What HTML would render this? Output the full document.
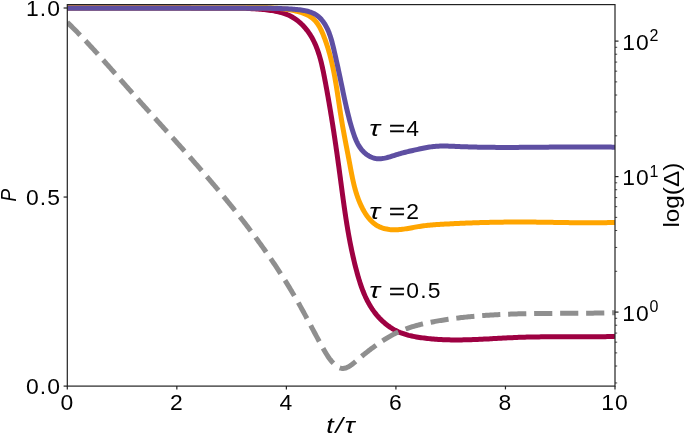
<!DOCTYPE html>
<html><head><meta charset="utf-8"><title>chart</title>
<style>html,body{margin:0;padding:0;background:#fff;}svg{display:block;}</style>
</head><body>
<svg width="685" height="436" viewBox="0 0 685 436">
<defs><clipPath id="c"><rect x="67.3" y="4.6" width="547.7" height="381.5"/></clipPath></defs>
<rect width="685" height="436" fill="#fff"/>
<g clip-path="url(#c)" fill="none" stroke-linejoin="round">
<path d="M67.00,8.00 L68.58,8.01 L70.16,8.01 L71.74,8.02 L73.32,8.02 L74.90,8.02 L76.48,8.03 L78.05,8.03 L79.63,8.03 L81.21,8.03 L82.79,8.04 L84.37,8.04 L85.95,8.04 L87.53,8.04 L89.11,8.04 L90.69,8.04 L92.26,8.04 L93.84,8.04 L95.42,8.04 L97.00,8.03 L98.58,8.03 L100.16,8.03 L101.74,8.03 L103.31,8.03 L104.89,8.02 L106.47,8.02 L108.05,8.02 L109.63,8.02 L111.21,8.01 L112.79,8.01 L114.36,8.01 L115.94,8.01 L117.52,8.00 L119.10,8.00 L120.68,8.00 L122.26,7.99 L123.83,7.99 L125.41,7.99 L126.99,7.99 L128.57,7.98 L130.15,7.98 L131.73,7.98 L133.30,7.98 L134.88,7.98 L136.46,7.97 L138.04,7.97 L139.62,7.97 L141.20,7.97 L142.77,7.97 L144.35,7.97 L145.93,7.97 L147.51,7.97 L149.09,7.97 L150.67,7.97 L152.25,7.97 L153.82,7.97 L155.40,7.98 L156.98,7.98 L158.56,7.98 L160.14,7.99 L161.72,7.99 L163.30,7.99 L164.87,8.00 L166.45,8.00 L168.03,8.01 L169.61,8.02 L171.19,8.02 L172.77,8.03 L174.35,8.04 L175.93,8.05 L177.51,8.05 L179.08,8.06 L180.66,8.07 L182.24,8.08 L183.82,8.09 L185.40,8.10 L186.98,8.10 L188.56,8.11 L190.14,8.12 L191.71,8.13 L193.29,8.14 L194.87,8.14 L196.45,8.15 L198.03,8.16 L199.61,8.16 L201.18,8.17 L202.76,8.17 L204.34,8.17 L205.92,8.18 L207.49,8.18 L209.07,8.18 L210.65,8.18 L212.22,8.18 L213.80,8.18 L215.38,8.18 L216.95,8.17 L218.53,8.17 L220.10,8.16 L221.68,8.16 L223.26,8.15 L224.83,8.15 L226.41,8.14 L227.98,8.14 L229.56,8.14 L231.13,8.14 L232.71,8.15 L234.28,8.16 L235.86,8.17 L237.44,8.19 L239.01,8.21 L240.59,8.24 L242.17,8.28 L243.74,8.32 L245.32,8.36 L246.90,8.42 L248.48,8.48 L250.06,8.55 L251.64,8.63 L253.22,8.71 L254.80,8.81 L256.38,8.92 L257.96,9.03 L259.55,9.16 L261.13,9.30 L262.72,9.45 L264.30,9.61 L265.89,9.79 L267.48,9.98 L269.06,10.18 L270.65,10.40 L272.23,10.64 L273.81,10.90 L275.37,11.19 L276.93,11.51 L278.48,11.85 L280.02,12.23 L281.54,12.64 L283.05,13.09 L284.54,13.58 L286.01,14.12 L287.46,14.70 L288.88,15.32 L290.29,16.00 L291.66,16.73 L293.01,17.51 L294.33,18.33 L295.62,19.21 L296.89,20.13 L298.12,21.09 L299.33,22.10 L300.50,23.14 L301.64,24.22 L302.76,25.33 L303.84,26.47 L304.88,27.64 L305.90,28.84 L306.88,30.07 L307.82,31.32 L308.73,32.59 L309.61,33.88 L310.45,35.19 L311.26,36.52 L312.03,37.86 L312.78,39.22 L313.49,40.60 L314.18,41.99 L314.83,43.39 L315.46,44.81 L316.07,46.25 L316.65,47.70 L317.20,49.15 L317.73,50.63 L318.24,52.11 L318.73,53.60 L319.20,55.10 L319.66,56.61 L320.09,58.13 L320.51,59.66 L320.91,61.19 L321.30,62.73 L321.67,64.28 L322.04,65.83 L322.39,67.38 L322.73,68.94 L323.06,70.51 L323.39,72.07 L323.70,73.64 L324.01,75.21 L324.32,76.78 L324.62,78.35 L324.92,79.92 L325.22,81.49 L325.52,83.06 L325.81,84.63 L326.10,86.20 L326.39,87.76 L326.68,89.33 L326.96,90.89 L327.24,92.46 L327.52,94.02 L327.80,95.58 L328.08,97.15 L328.35,98.71 L328.62,100.27 L328.90,101.83 L329.16,103.39 L329.43,104.95 L329.70,106.51 L329.96,108.07 L330.22,109.63 L330.48,111.19 L330.74,112.75 L330.99,114.30 L331.25,115.86 L331.50,117.42 L331.75,118.98 L332.00,120.53 L332.25,122.09 L332.50,123.64 L332.74,125.20 L332.99,126.76 L333.23,128.31 L333.47,129.87 L333.71,131.42 L333.94,132.98 L334.18,134.53 L334.42,136.09 L334.65,137.64 L334.88,139.20 L335.11,140.76 L335.34,142.31 L335.57,143.87 L335.80,145.42 L336.02,146.98 L336.25,148.53 L336.47,150.09 L336.70,151.64 L336.92,153.20 L337.14,154.76 L337.36,156.31 L337.58,157.87 L337.79,159.43 L338.01,160.99 L338.22,162.54 L338.44,164.10 L338.65,165.66 L338.87,167.22 L339.08,168.78 L339.29,170.34 L339.50,171.90 L339.71,173.46 L339.92,175.02 L340.13,176.58 L340.34,178.14 L340.54,179.71 L340.75,181.27 L340.96,182.83 L341.17,184.40 L341.38,185.96 L341.58,187.52 L341.79,189.09 L342.00,190.65 L342.21,192.22 L342.42,193.78 L342.63,195.34 L342.85,196.91 L343.06,198.47 L343.27,200.04 L343.49,201.60 L343.71,203.17 L343.93,204.73 L344.15,206.29 L344.37,207.86 L344.60,209.42 L344.83,210.99 L345.06,212.55 L345.29,214.11 L345.53,215.68 L345.76,217.24 L346.00,218.80 L346.25,220.36 L346.49,221.92 L346.74,223.48 L347.00,225.04 L347.25,226.60 L347.51,228.16 L347.77,229.72 L348.04,231.28 L348.31,232.84 L348.59,234.39 L348.87,235.95 L349.15,237.50 L349.44,239.06 L349.73,240.61 L350.03,242.17 L350.33,243.72 L350.64,245.27 L350.95,246.82 L351.27,248.37 L351.59,249.92 L351.92,251.46 L352.25,253.01 L352.59,254.56 L352.93,256.10 L353.28,257.64 L353.64,259.19 L354.00,260.73 L354.37,262.27 L354.74,263.80 L355.13,265.34 L355.51,266.88 L355.91,268.41 L356.31,269.94 L356.72,271.48 L357.14,273.01 L357.56,274.53 L357.99,276.06 L358.44,277.58 L358.89,279.10 L359.36,280.61 L359.83,282.12 L360.32,283.62 L360.83,285.12 L361.34,286.61 L361.88,288.09 L362.43,289.57 L362.99,291.04 L363.58,292.49 L364.18,293.94 L364.80,295.38 L365.44,296.81 L366.11,298.22 L366.79,299.62 L367.50,301.02 L368.23,302.39 L368.98,303.76 L369.76,305.11 L370.57,306.44 L371.40,307.77 L372.25,309.07 L373.14,310.36 L374.06,311.63 L375.00,312.88 L375.98,314.12 L376.98,315.33 L378.02,316.53 L379.09,317.71 L380.19,318.86 L381.32,319.99 L382.48,321.10 L383.66,322.17 L384.87,323.22 L386.11,324.24 L387.38,325.22 L388.66,326.17 L389.97,327.09 L391.31,327.97 L392.66,328.81 L394.03,329.61 L395.42,330.36 L396.84,331.07 L398.26,331.74 L399.71,332.37 L401.17,332.95 L402.64,333.49 L404.13,333.99 L405.63,334.46 L407.14,334.90 L408.66,335.31 L410.19,335.68 L411.72,336.03 L413.27,336.35 L414.82,336.65 L416.37,336.93 L417.93,337.20 L419.49,337.44 L421.05,337.67 L422.61,337.89 L424.18,338.09 L425.74,338.28 L427.31,338.46 L428.87,338.63 L430.44,338.78 L432.01,338.93 L433.58,339.06 L435.14,339.18 L436.71,339.30 L438.28,339.40 L439.85,339.49 L441.42,339.57 L442.99,339.65 L444.57,339.71 L446.14,339.77 L447.71,339.81 L449.28,339.85 L450.86,339.88 L452.43,339.90 L454.01,339.92 L455.58,339.92 L457.16,339.92 L458.73,339.92 L460.31,339.91 L461.89,339.89 L463.46,339.86 L465.04,339.83 L466.62,339.80 L468.20,339.75 L469.77,339.71 L471.35,339.66 L472.93,339.60 L474.51,339.54 L476.09,339.48 L477.67,339.42 L479.25,339.35 L480.83,339.27 L482.41,339.20 L483.99,339.12 L485.57,339.04 L487.15,338.96 L488.73,338.88 L490.31,338.80 L491.89,338.71 L493.47,338.62 L495.05,338.54 L496.63,338.45 L498.21,338.37 L499.79,338.28 L501.37,338.19 L502.95,338.11 L504.53,338.02 L506.11,337.94 L507.69,337.86 L509.27,337.78 L510.85,337.71 L512.43,337.63 L514.01,337.56 L515.59,337.49 L517.17,337.43 L518.75,337.36 L520.33,337.31 L521.91,337.25 L523.49,337.20 L525.07,337.16 L526.64,337.11 L528.22,337.07 L529.80,337.04 L531.38,337.01 L532.96,336.98 L534.53,336.95 L536.11,336.93 L537.69,336.91 L539.26,336.89 L540.84,336.87 L542.42,336.86 L544.00,336.85 L545.57,336.84 L547.15,336.83 L548.73,336.83 L550.30,336.82 L551.88,336.82 L553.45,336.82 L555.03,336.82 L556.61,336.82 L558.18,336.82 L559.76,336.82 L561.34,336.83 L562.91,336.83 L564.49,336.84 L566.07,336.84 L567.64,336.84 L569.22,336.85 L570.80,336.85 L572.37,336.86 L573.95,336.86 L575.53,336.86 L577.10,336.87 L578.68,336.87 L580.26,336.87 L581.83,336.87 L583.41,336.87 L584.99,336.86 L586.57,336.86 L588.14,336.85 L589.72,336.84 L591.30,336.83 L592.88,336.82 L594.46,336.81 L596.04,336.79 L597.61,336.77 L599.19,336.75 L600.77,336.72 L602.35,336.69 L603.93,336.66 L605.51,336.63 L607.09,336.59 L608.67,336.55 L610.26,336.51 L611.84,336.46 L613.42,336.41 L615.00,336.35" stroke="#9e0142" stroke-width="5"/>
<path d="M67.00,8.00 L68.42,7.99 L69.84,7.98 L71.26,7.98 L72.68,7.97 L74.10,7.96 L75.52,7.95 L76.94,7.95 L78.36,7.94 L79.78,7.94 L81.20,7.93 L82.62,7.93 L84.04,7.92 L85.46,7.92 L86.88,7.92 L88.30,7.91 L89.72,7.91 L91.14,7.91 L92.56,7.91 L93.98,7.91 L95.40,7.90 L96.82,7.90 L98.24,7.90 L99.66,7.90 L101.08,7.90 L102.49,7.90 L103.91,7.90 L105.33,7.90 L106.75,7.91 L108.17,7.91 L109.59,7.91 L111.01,7.91 L112.43,7.91 L113.84,7.91 L115.26,7.92 L116.68,7.92 L118.10,7.92 L119.52,7.93 L120.94,7.93 L122.35,7.93 L123.77,7.94 L125.19,7.94 L126.61,7.94 L128.03,7.95 L129.44,7.95 L130.86,7.96 L132.28,7.96 L133.70,7.96 L135.12,7.97 L136.53,7.97 L137.95,7.98 L139.37,7.98 L140.79,7.99 L142.21,7.99 L143.62,8.00 L145.04,8.00 L146.46,8.01 L147.88,8.01 L149.30,8.02 L150.71,8.02 L152.13,8.03 L153.55,8.03 L154.97,8.03 L156.38,8.04 L157.80,8.04 L159.22,8.05 L160.64,8.05 L162.06,8.06 L163.47,8.06 L164.89,8.07 L166.31,8.07 L167.73,8.07 L169.15,8.08 L170.56,8.08 L171.98,8.09 L173.40,8.09 L174.82,8.09 L176.23,8.10 L177.65,8.10 L179.07,8.10 L180.49,8.10 L181.91,8.11 L183.33,8.11 L184.74,8.11 L186.16,8.11 L187.58,8.12 L189.00,8.12 L190.42,8.12 L191.83,8.12 L193.25,8.12 L194.67,8.12 L196.09,8.12 L197.51,8.12 L198.93,8.12 L200.35,8.12 L201.76,8.12 L203.18,8.12 L204.60,8.11 L206.02,8.11 L207.44,8.11 L208.86,8.11 L210.28,8.10 L211.70,8.10 L213.12,8.10 L214.53,8.09 L215.95,8.09 L217.37,8.08 L218.79,8.08 L220.21,8.07 L221.63,8.06 L223.05,8.06 L224.47,8.05 L225.89,8.04 L227.31,8.03 L228.73,8.02 L230.15,8.02 L231.57,8.01 L232.99,8.00 L234.41,7.98 L235.83,7.97 L237.25,7.96 L238.67,7.95 L240.09,7.94 L241.51,7.92 L242.93,7.91 L244.35,7.89 L245.77,7.88 L247.20,7.86 L248.62,7.85 L250.04,7.83 L251.46,7.82 L252.88,7.80 L254.30,7.79 L255.72,7.78 L257.15,7.78 L258.57,7.78 L259.99,7.78 L261.41,7.78 L262.83,7.80 L264.25,7.82 L265.68,7.84 L267.10,7.87 L268.52,7.91 L269.94,7.96 L271.36,8.02 L272.78,8.09 L274.21,8.16 L275.63,8.25 L277.05,8.35 L278.47,8.46 L279.89,8.58 L281.31,8.72 L282.73,8.87 L284.15,9.03 L285.58,9.21 L287.00,9.41 L288.42,9.62 L289.84,9.84 L291.26,10.08 L292.68,10.35 L294.10,10.63 L295.51,10.93 L296.91,11.25 L298.30,11.61 L299.68,11.99 L301.04,12.40 L302.38,12.85 L303.70,13.33 L305.00,13.85 L306.26,14.41 L307.50,15.01 L308.70,15.66 L309.86,16.35 L310.98,17.10 L312.06,17.89 L313.10,18.74 L314.08,19.65 L315.02,20.61 L315.91,21.62 L316.76,22.68 L317.56,23.79 L318.32,24.94 L319.05,26.13 L319.75,27.35 L320.41,28.60 L321.05,29.87 L321.65,31.17 L322.24,32.48 L322.80,33.80 L323.35,35.14 L323.88,36.48 L324.40,37.83 L324.91,39.18 L325.40,40.53 L325.88,41.88 L326.35,43.24 L326.80,44.60 L327.25,45.96 L327.68,47.32 L328.10,48.69 L328.51,50.06 L328.91,51.43 L329.30,52.80 L329.68,54.17 L330.06,55.55 L330.42,56.93 L330.77,58.31 L331.11,59.69 L331.45,61.08 L331.77,62.46 L332.09,63.85 L332.40,65.24 L332.71,66.63 L333.01,68.02 L333.30,69.41 L333.58,70.81 L333.86,72.20 L334.13,73.60 L334.39,75.00 L334.65,76.39 L334.91,77.79 L335.16,79.19 L335.40,80.59 L335.64,82.00 L335.88,83.40 L336.11,84.80 L336.34,86.21 L336.57,87.61 L336.79,89.01 L337.01,90.42 L337.23,91.83 L337.45,93.23 L337.66,94.64 L337.87,96.04 L338.09,97.45 L338.30,98.85 L338.51,100.26 L338.72,101.66 L338.93,103.07 L339.14,104.47 L339.35,105.88 L339.56,107.28 L339.77,108.68 L339.98,110.09 L340.20,111.49 L340.42,112.89 L340.63,114.29 L340.86,115.69 L341.08,117.09 L341.31,118.49 L341.54,119.88 L341.77,121.28 L342.01,122.67 L342.25,124.07 L342.49,125.46 L342.73,126.85 L342.98,128.24 L343.23,129.64 L343.49,131.03 L343.74,132.42 L344.00,133.81 L344.25,135.19 L344.51,136.58 L344.78,137.97 L345.04,139.36 L345.30,140.75 L345.57,142.14 L345.83,143.53 L346.10,144.91 L346.37,146.30 L346.64,147.69 L346.90,149.08 L347.17,150.47 L347.44,151.86 L347.71,153.25 L347.98,154.65 L348.24,156.04 L348.51,157.43 L348.78,158.83 L349.04,160.22 L349.30,161.62 L349.57,163.02 L349.83,164.41 L350.09,165.81 L350.35,167.21 L350.61,168.61 L350.87,170.02 L351.14,171.42 L351.41,172.82 L351.68,174.22 L351.96,175.61 L352.25,177.01 L352.54,178.41 L352.84,179.80 L353.15,181.19 L353.46,182.58 L353.79,183.97 L354.13,185.36 L354.48,186.74 L354.84,188.12 L355.22,189.49 L355.61,190.86 L356.01,192.23 L356.43,193.59 L356.87,194.95 L357.33,196.31 L357.80,197.65 L358.30,199.00 L358.81,200.34 L359.35,201.67 L359.90,202.99 L360.48,204.31 L361.08,205.62 L361.71,206.93 L362.36,208.23 L363.04,209.51 L363.74,210.78 L364.47,212.04 L365.23,213.27 L366.02,214.48 L366.83,215.66 L367.68,216.82 L368.55,217.94 L369.45,219.02 L370.39,220.06 L371.35,221.06 L372.35,222.02 L373.38,222.92 L374.44,223.77 L375.54,224.57 L376.67,225.31 L377.84,225.99 L379.04,226.60 L380.27,227.16 L381.53,227.65 L382.81,228.09 L384.12,228.48 L385.45,228.81 L386.80,229.09 L388.17,229.32 L389.56,229.50 L390.95,229.64 L392.36,229.73 L393.77,229.78 L395.19,229.79 L396.61,229.75 L398.04,229.69 L399.46,229.58 L400.89,229.45 L402.32,229.29 L403.75,229.11 L405.18,228.90 L406.61,228.68 L408.04,228.44 L409.47,228.19 L410.90,227.94 L412.33,227.68 L413.76,227.41 L415.19,227.15 L416.62,226.89 L418.04,226.65 L419.47,226.41 L420.89,226.18 L422.31,225.98 L423.72,225.79 L425.14,225.61 L426.55,225.45 L427.96,225.30 L429.37,225.16 L430.78,225.04 L432.18,224.92 L433.59,224.81 L435.00,224.71 L436.40,224.61 L437.81,224.52 L439.21,224.44 L440.62,224.35 L442.03,224.27 L443.43,224.19 L444.84,224.11 L446.25,224.03 L447.66,223.95 L449.07,223.88 L450.48,223.80 L451.89,223.73 L453.30,223.66 L454.71,223.59 L456.12,223.52 L457.54,223.46 L458.95,223.39 L460.36,223.33 L461.78,223.27 L463.19,223.21 L464.61,223.15 L466.02,223.09 L467.44,223.04 L468.85,222.98 L470.27,222.93 L471.69,222.88 L473.10,222.83 L474.52,222.78 L475.94,222.74 L477.35,222.69 L478.77,222.65 L480.19,222.61 L481.61,222.56 L483.03,222.53 L484.45,222.49 L485.87,222.45 L487.29,222.42 L488.71,222.38 L490.13,222.35 L491.55,222.32 L492.97,222.29 L494.39,222.27 L495.81,222.24 L497.23,222.22 L498.65,222.19 L500.07,222.17 L501.49,222.15 L502.91,222.13 L504.33,222.12 L505.75,222.10 L507.17,222.09 L508.60,222.07 L510.02,222.06 L511.44,222.05 L512.86,222.05 L514.28,222.04 L515.70,222.03 L517.12,222.03 L518.54,222.03 L519.96,222.03 L521.38,222.03 L522.80,222.03 L524.22,222.03 L525.64,222.04 L527.06,222.04 L528.48,222.05 L529.90,222.06 L531.32,222.07 L532.74,222.09 L534.16,222.10 L535.58,222.11 L537.00,222.13 L538.42,222.15 L539.83,222.17 L541.25,222.18 L542.67,222.20 L544.09,222.22 L545.51,222.25 L546.92,222.27 L548.34,222.29 L549.76,222.31 L551.18,222.34 L552.59,222.36 L554.01,222.38 L555.43,222.41 L556.85,222.43 L558.26,222.45 L559.68,222.48 L561.10,222.50 L562.51,222.52 L563.93,222.55 L565.35,222.57 L566.76,222.59 L568.18,222.61 L569.60,222.63 L571.02,222.65 L572.43,222.67 L573.85,222.68 L575.27,222.70 L576.68,222.72 L578.10,222.73 L579.52,222.74 L580.94,222.75 L582.35,222.76 L583.77,222.77 L585.19,222.78 L586.61,222.78 L588.02,222.79 L589.44,222.79 L590.86,222.79 L592.28,222.78 L593.70,222.78 L595.12,222.77 L596.54,222.76 L597.95,222.75 L599.37,222.74 L600.79,222.72 L602.21,222.70 L603.63,222.68 L605.05,222.66 L606.47,222.63 L607.89,222.60 L609.31,222.56 L610.74,222.53 L612.16,222.49 L613.58,222.45 L615.00,222.40" stroke="#ffa500" stroke-width="5"/>
<path d="M67.00,8.30 L68.31,8.30 L69.62,8.30 L70.92,8.29 L72.23,8.29 L73.54,8.29 L74.85,8.29 L76.16,8.29 L77.46,8.29 L78.77,8.29 L80.08,8.28 L81.39,8.28 L82.70,8.28 L84.00,8.28 L85.31,8.28 L86.62,8.28 L87.93,8.28 L89.23,8.28 L90.54,8.28 L91.85,8.28 L93.15,8.28 L94.46,8.28 L95.77,8.28 L97.08,8.28 L98.38,8.28 L99.69,8.28 L101.00,8.28 L102.30,8.28 L103.61,8.28 L104.92,8.28 L106.23,8.28 L107.53,8.28 L108.84,8.28 L110.15,8.28 L111.45,8.28 L112.76,8.28 L114.07,8.28 L115.37,8.28 L116.68,8.28 L117.99,8.29 L119.29,8.29 L120.60,8.29 L121.91,8.29 L123.21,8.29 L124.52,8.29 L125.83,8.29 L127.13,8.29 L128.44,8.29 L129.75,8.29 L131.05,8.29 L132.36,8.30 L133.67,8.30 L134.97,8.30 L136.28,8.30 L137.59,8.30 L138.89,8.30 L140.20,8.30 L141.51,8.30 L142.81,8.30 L144.12,8.31 L145.42,8.31 L146.73,8.31 L148.04,8.31 L149.34,8.31 L150.65,8.31 L151.96,8.31 L153.26,8.31 L154.57,8.31 L155.88,8.32 L157.18,8.32 L158.49,8.32 L159.80,8.32 L161.10,8.32 L162.41,8.32 L163.72,8.32 L165.02,8.32 L166.33,8.32 L167.64,8.32 L168.94,8.32 L170.25,8.32 L171.56,8.32 L172.86,8.32 L174.17,8.33 L175.48,8.33 L176.79,8.33 L178.09,8.33 L179.40,8.33 L180.71,8.33 L182.01,8.33 L183.32,8.33 L184.63,8.33 L185.93,8.33 L187.24,8.33 L188.55,8.33 L189.86,8.33 L191.16,8.33 L192.47,8.32 L193.78,8.32 L195.09,8.32 L196.39,8.32 L197.70,8.32 L199.01,8.32 L200.32,8.32 L201.62,8.32 L202.93,8.32 L204.24,8.32 L205.55,8.32 L206.86,8.31 L208.16,8.31 L209.47,8.31 L210.78,8.31 L212.09,8.31 L213.40,8.30 L214.70,8.30 L216.01,8.30 L217.32,8.30 L218.63,8.30 L219.94,8.29 L221.25,8.29 L222.56,8.29 L223.86,8.28 L225.17,8.28 L226.48,8.28 L227.79,8.27 L229.10,8.27 L230.41,8.27 L231.72,8.26 L233.03,8.26 L234.34,8.26 L235.65,8.25 L236.96,8.25 L238.26,8.24 L239.57,8.24 L240.88,8.24 L242.19,8.23 L243.50,8.23 L244.81,8.23 L246.12,8.23 L247.43,8.23 L248.73,8.22 L250.04,8.22 L251.35,8.23 L252.66,8.23 L253.96,8.23 L255.27,8.23 L256.57,8.24 L257.88,8.24 L259.18,8.25 L260.49,8.26 L261.79,8.27 L263.09,8.28 L264.40,8.29 L265.70,8.30 L267.00,8.32 L268.30,8.33 L269.60,8.35 L270.90,8.37 L272.20,8.39 L273.49,8.41 L274.79,8.44 L276.09,8.46 L277.38,8.49 L278.67,8.52 L279.97,8.56 L281.26,8.59 L282.56,8.64 L283.86,8.68 L285.16,8.73 L286.46,8.79 L287.76,8.86 L289.07,8.93 L290.38,9.01 L291.70,9.09 L293.02,9.19 L294.35,9.29 L295.68,9.41 L297.02,9.53 L298.36,9.67 L299.71,9.82 L301.05,9.99 L302.38,10.19 L303.71,10.41 L305.03,10.66 L306.33,10.94 L307.62,11.25 L308.89,11.61 L310.13,12.01 L311.35,12.45 L312.54,12.94 L313.69,13.48 L314.81,14.07 L315.89,14.73 L316.94,15.44 L317.94,16.20 L318.91,17.02 L319.83,17.88 L320.73,18.79 L321.58,19.74 L322.40,20.73 L323.19,21.76 L323.94,22.82 L324.65,23.90 L325.34,25.02 L325.99,26.15 L326.61,27.31 L327.20,28.48 L327.75,29.67 L328.28,30.86 L328.78,32.07 L329.26,33.29 L329.71,34.52 L330.14,35.75 L330.54,36.99 L330.93,38.24 L331.31,39.50 L331.66,40.76 L332.01,42.02 L332.34,43.29 L332.66,44.57 L332.98,45.84 L333.29,47.12 L333.59,48.40 L333.90,49.68 L334.20,50.96 L334.50,52.24 L334.79,53.52 L335.09,54.80 L335.38,56.08 L335.67,57.36 L335.96,58.64 L336.25,59.93 L336.54,61.21 L336.82,62.49 L337.10,63.77 L337.38,65.05 L337.66,66.33 L337.94,67.62 L338.22,68.90 L338.49,70.18 L338.77,71.46 L339.04,72.74 L339.31,74.02 L339.58,75.30 L339.85,76.58 L340.12,77.86 L340.39,79.14 L340.66,80.42 L340.92,81.69 L341.19,82.97 L341.46,84.25 L341.72,85.52 L341.99,86.80 L342.25,88.07 L342.52,89.34 L342.78,90.61 L343.04,91.88 L343.31,93.15 L343.58,94.42 L343.84,95.69 L344.11,96.96 L344.38,98.23 L344.65,99.50 L344.93,100.76 L345.21,102.03 L345.48,103.30 L345.77,104.56 L346.05,105.83 L346.34,107.10 L346.63,108.36 L346.93,109.63 L347.23,110.90 L347.53,112.16 L347.84,113.43 L348.15,114.70 L348.47,115.97 L348.80,117.23 L349.13,118.50 L349.46,119.77 L349.80,121.04 L350.15,122.31 L350.51,123.58 L350.87,124.85 L351.24,126.13 L351.61,127.40 L352.00,128.68 L352.39,129.95 L352.79,131.23 L353.19,132.50 L353.61,133.78 L354.05,135.05 L354.50,136.31 L354.97,137.57 L355.45,138.81 L355.97,140.04 L356.50,141.25 L357.07,142.45 L357.66,143.62 L358.29,144.78 L358.95,145.90 L359.64,147.00 L360.38,148.07 L361.16,149.11 L361.98,150.11 L362.84,151.07 L363.74,152.00 L364.68,152.88 L365.66,153.71 L366.67,154.49 L367.71,155.21 L368.79,155.88 L369.89,156.48 L371.02,157.03 L372.17,157.50 L373.35,157.90 L374.55,158.23 L375.77,158.48 L377.01,158.66 L378.26,158.74 L379.53,158.75 L380.81,158.69 L382.10,158.56 L383.40,158.37 L384.70,158.13 L386.02,157.84 L387.33,157.52 L388.65,157.16 L389.97,156.78 L391.29,156.37 L392.61,155.96 L393.92,155.54 L395.23,155.12 L396.53,154.70 L397.82,154.31 L399.10,153.92 L400.38,153.56 L401.64,153.20 L402.90,152.86 L404.16,152.53 L405.41,152.21 L406.66,151.90 L407.90,151.60 L409.15,151.31 L410.39,151.02 L411.64,150.73 L412.89,150.45 L414.14,150.17 L415.39,149.89 L416.65,149.62 L417.92,149.34 L419.19,149.06 L420.46,148.78 L421.74,148.51 L423.03,148.25 L424.31,147.99 L425.61,147.75 L426.90,147.51 L428.20,147.29 L429.49,147.08 L430.79,146.88 L432.10,146.71 L433.40,146.55 L434.70,146.41 L436.01,146.30 L437.31,146.21 L438.62,146.13 L439.92,146.08 L441.22,146.05 L442.53,146.04 L443.83,146.04 L445.14,146.05 L446.44,146.07 L447.75,146.11 L449.05,146.15 L450.36,146.20 L451.66,146.25 L452.96,146.31 L454.27,146.37 L455.57,146.43 L456.88,146.48 L458.18,146.54 L459.49,146.59 L460.79,146.64 L462.10,146.69 L463.40,146.74 L464.71,146.78 L466.02,146.83 L467.32,146.87 L468.63,146.91 L469.93,146.94 L471.24,146.98 L472.54,147.02 L473.85,147.05 L475.15,147.08 L476.46,147.11 L477.77,147.14 L479.07,147.16 L480.38,147.19 L481.68,147.21 L482.99,147.23 L484.30,147.25 L485.60,147.27 L486.91,147.29 L488.21,147.31 L489.52,147.32 L490.83,147.34 L492.13,147.35 L493.44,147.36 L494.75,147.37 L496.05,147.38 L497.36,147.39 L498.67,147.39 L499.97,147.40 L501.28,147.40 L502.59,147.41 L503.89,147.41 L505.20,147.41 L506.51,147.41 L507.81,147.41 L509.12,147.41 L510.43,147.41 L511.73,147.41 L513.04,147.40 L514.35,147.40 L515.65,147.39 L516.96,147.39 L518.27,147.38 L519.58,147.37 L520.88,147.37 L522.19,147.36 L523.50,147.35 L524.80,147.34 L526.11,147.33 L527.42,147.32 L528.73,147.31 L530.03,147.30 L531.34,147.29 L532.65,147.28 L533.95,147.27 L535.26,147.26 L536.57,147.24 L537.88,147.23 L539.18,147.22 L540.49,147.21 L541.80,147.19 L543.11,147.18 L544.41,147.17 L545.72,147.15 L547.03,147.14 L548.34,147.13 L549.64,147.11 L550.95,147.10 L552.26,147.09 L553.57,147.08 L554.87,147.06 L556.18,147.05 L557.49,147.04 L558.79,147.03 L560.10,147.02 L561.41,147.01 L562.72,146.99 L564.02,146.98 L565.33,146.97 L566.64,146.97 L567.95,146.96 L569.25,146.95 L570.56,146.94 L571.87,146.93 L573.18,146.93 L574.48,146.92 L575.79,146.91 L577.10,146.91 L578.41,146.90 L579.71,146.90 L581.02,146.90 L582.33,146.90 L583.63,146.90 L584.94,146.90 L586.25,146.90 L587.56,146.90 L588.86,146.90 L590.17,146.91 L591.48,146.91 L592.78,146.92 L594.09,146.92 L595.40,146.93 L596.71,146.94 L598.01,146.95 L599.32,146.96 L600.63,146.97 L601.93,146.99 L603.24,147.00 L604.55,147.02 L605.85,147.04 L607.16,147.06 L608.47,147.08 L609.77,147.10 L611.08,147.12 L612.39,147.15 L613.69,147.17 L615.00,147.20" stroke="#5e4fa2" stroke-width="5"/>
<path d="M67.30,22.30 L68.35,23.32 L69.40,24.34 L70.44,25.37 L71.48,26.40 L72.52,27.43 L73.56,28.46 L74.59,29.50 L75.62,30.54 L76.65,31.58 L77.67,32.63 L78.69,33.68 L79.71,34.73 L80.73,35.78 L81.75,36.84 L82.76,37.89 L83.77,38.95 L84.78,40.01 L85.78,41.08 L86.79,42.14 L87.79,43.21 L88.79,44.28 L89.79,45.35 L90.79,46.43 L91.78,47.50 L92.77,48.58 L93.77,49.66 L94.76,50.74 L95.75,51.82 L96.73,52.91 L97.72,53.99 L98.70,55.08 L99.69,56.16 L100.67,57.25 L101.65,58.34 L102.63,59.43 L103.61,60.53 L104.58,61.62 L105.56,62.71 L106.53,63.81 L107.51,64.90 L108.48,66.00 L109.46,67.10 L110.43,68.19 L111.40,69.29 L112.37,70.39 L113.34,71.49 L114.31,72.59 L115.28,73.69 L116.25,74.79 L117.22,75.89 L118.19,76.99 L119.16,78.09 L120.13,79.19 L121.10,80.29 L122.07,81.39 L123.04,82.49 L124.01,83.59 L124.98,84.69 L125.95,85.79 L126.92,86.89 L127.89,87.99 L128.86,89.09 L129.83,90.19 L130.80,91.28 L131.77,92.38 L132.75,93.48 L133.72,94.57 L134.69,95.67 L135.67,96.76 L136.64,97.85 L137.62,98.95 L138.60,100.04 L139.57,101.13 L140.55,102.22 L141.53,103.31 L142.51,104.40 L143.49,105.49 L144.46,106.58 L145.44,107.67 L146.42,108.76 L147.40,109.85 L148.38,110.93 L149.36,112.02 L150.34,113.11 L151.32,114.20 L152.30,115.28 L153.29,116.37 L154.27,117.46 L155.25,118.54 L156.23,119.63 L157.21,120.71 L158.19,121.80 L159.17,122.89 L160.16,123.97 L161.14,125.06 L162.12,126.15 L163.10,127.23 L164.08,128.32 L165.06,129.40 L166.04,130.49 L167.02,131.58 L168.00,132.67 L168.98,133.75 L169.96,134.84 L170.94,135.93 L171.92,137.02 L172.90,138.10 L173.88,139.19 L174.86,140.28 L175.84,141.37 L176.82,142.46 L177.80,143.55 L178.77,144.64 L179.75,145.73 L180.73,146.82 L181.70,147.92 L182.68,149.01 L183.65,150.10 L184.63,151.20 L185.60,152.29 L186.57,153.39 L187.55,154.48 L188.52,155.58 L189.49,156.68 L190.46,157.77 L191.43,158.87 L192.40,159.97 L193.37,161.07 L194.33,162.18 L195.30,163.28 L196.27,164.38 L197.23,165.48 L198.19,166.59 L199.16,167.69 L200.12,168.80 L201.08,169.91 L202.04,171.02 L203.00,172.13 L203.96,173.24 L204.92,174.35 L205.87,175.46 L206.83,176.57 L207.78,177.69 L208.74,178.80 L209.69,179.92 L210.64,181.03 L211.59,182.15 L212.54,183.27 L213.49,184.39 L214.43,185.51 L215.38,186.63 L216.32,187.76 L217.27,188.88 L218.21,190.01 L219.15,191.13 L220.09,192.26 L221.02,193.39 L221.96,194.52 L222.89,195.65 L223.83,196.78 L224.76,197.91 L225.69,199.05 L226.62,200.18 L227.54,201.32 L228.47,202.46 L229.39,203.60 L230.32,204.74 L231.24,205.88 L232.16,207.02 L233.07,208.16 L233.99,209.31 L234.91,210.46 L235.82,211.60 L236.73,212.75 L237.64,213.90 L238.55,215.05 L239.45,216.21 L240.36,217.36 L241.26,218.52 L242.16,219.67 L243.06,220.83 L243.95,221.99 L244.85,223.15 L245.74,224.31 L246.63,225.48 L247.52,226.64 L248.41,227.81 L249.29,228.98 L250.18,230.15 L251.06,231.32 L251.94,232.49 L252.81,233.66 L253.69,234.84 L254.56,236.01 L255.43,237.19 L256.30,238.37 L257.17,239.55 L258.03,240.74 L258.89,241.92 L259.75,243.11 L260.61,244.29 L261.46,245.48 L262.31,246.67 L263.16,247.87 L264.01,249.06 L264.86,250.26 L265.70,251.45 L266.54,252.65 L267.38,253.85 L268.22,255.05 L269.05,256.26 L269.88,257.46 L270.71,258.67 L271.53,259.88 L272.36,261.09 L273.18,262.30 L273.99,263.51 L274.81,264.73 L275.62,265.95 L276.43,267.17 L277.24,268.39 L278.04,269.61 L278.85,270.83 L279.65,272.06 L280.44,273.29 L281.24,274.52 L282.03,275.75 L282.81,276.98 L283.60,278.22 L284.38,279.45 L285.16,280.69 L285.94,281.93 L286.71,283.18 L287.48,284.42 L288.25,285.67 L289.01,286.92 L289.78,288.17 L290.53,289.42 L291.29,290.67 L292.04,291.93 L292.79,293.19 L293.54,294.45 L294.28,295.71 L295.02,296.98 L295.76,298.24 L296.49,299.51 L297.22,300.78 L297.95,302.05 L298.67,303.33 L299.39,304.60 L300.11,305.88 L300.82,307.16 L301.53,308.45 L302.24,309.73 L302.95,311.02 L303.65,312.30 L304.35,313.59 L305.05,314.88 L305.74,316.18 L306.44,317.47 L307.13,318.76 L307.82,320.06 L308.51,321.35 L309.20,322.65 L309.89,323.94 L310.58,325.24 L311.27,326.53 L311.96,327.83 L312.65,329.13 L313.34,330.42 L314.03,331.72 L314.72,333.01 L315.41,334.30 L316.11,335.60 L316.80,336.89 L317.50,338.18 L318.20,339.47 L318.90,340.76 L319.61,342.04 L320.31,343.33 L321.02,344.61 L321.74,345.89 L322.45,347.17 L323.17,348.45 L323.90,349.72 L324.63,350.99 L325.36,352.26 L326.11,353.52 L326.89,354.77 L327.68,356.02 L328.51,357.25 L329.38,358.46 L330.29,359.66 L331.24,360.85 L332.25,362.01 L333.32,363.15 L334.45,364.25 L335.62,365.27 L336.82,366.20 L338.05,367.01 L339.30,367.65 L340.55,368.12 L341.80,368.38 L343.05,368.44 L344.29,368.32 L345.52,368.03 L346.75,367.59 L347.98,367.03 L349.19,366.34 L350.41,365.57 L351.61,364.71 L352.81,363.79 L354.00,362.82 L355.18,361.83 L356.35,360.82 L357.51,359.82 L358.67,358.84 L359.82,357.87 L360.96,356.92 L362.10,355.98 L363.24,355.05 L364.37,354.14 L365.50,353.24 L366.63,352.34 L367.77,351.46 L368.90,350.59 L370.04,349.72 L371.18,348.86 L372.33,348.01 L373.49,347.16 L374.66,346.31 L375.83,345.47 L377.02,344.62 L378.21,343.78 L379.42,342.95 L380.64,342.11 L381.87,341.29 L383.11,340.47 L384.36,339.66 L385.62,338.86 L386.89,338.07 L388.17,337.30 L389.46,336.55 L390.75,335.81 L392.06,335.09 L393.37,334.39 L394.69,333.71 L396.01,333.05 L397.35,332.42 L398.69,331.81 L400.04,331.21 L401.39,330.64 L402.75,330.09 L404.11,329.55 L405.48,329.03 L406.86,328.54 L408.24,328.05 L409.63,327.59 L411.02,327.14 L412.42,326.70 L413.82,326.28 L415.22,325.88 L416.63,325.49 L418.05,325.11 L419.46,324.74 L420.88,324.39 L422.30,324.05 L423.73,323.72 L425.16,323.40 L426.59,323.09 L428.02,322.79 L429.46,322.49 L430.89,322.21 L432.33,321.93 L433.77,321.67 L435.21,321.40 L436.65,321.15 L438.10,320.90 L439.54,320.65 L440.98,320.41 L442.43,320.18 L443.87,319.95 L445.32,319.72 L446.76,319.50 L448.21,319.29 L449.66,319.08 L451.11,318.88 L452.56,318.68 L454.01,318.49 L455.46,318.30 L456.91,318.12 L458.36,317.94 L459.81,317.76 L461.26,317.59 L462.71,317.43 L464.17,317.27 L465.62,317.11 L467.08,316.96 L468.53,316.81 L469.99,316.67 L471.44,316.53 L472.90,316.39 L474.36,316.26 L475.81,316.13 L477.27,316.01 L478.73,315.89 L480.19,315.77 L481.65,315.66 L483.11,315.55 L484.57,315.45 L486.03,315.35 L487.49,315.25 L488.95,315.15 L490.41,315.06 L491.88,314.98 L493.34,314.89 L494.80,314.81 L496.26,314.73 L497.73,314.65 L499.19,314.58 L500.65,314.51 L502.12,314.44 L503.58,314.38 L505.05,314.32 L506.51,314.26 L507.98,314.20 L509.44,314.15 L510.91,314.10 L512.38,314.05 L513.84,314.00 L515.31,313.96 L516.78,313.91 L518.24,313.87 L519.71,313.84 L521.18,313.80 L522.64,313.76 L524.11,313.73 L525.58,313.70 L527.05,313.67 L528.52,313.65 L529.98,313.62 L531.45,313.60 L532.92,313.57 L534.39,313.55 L535.86,313.53 L537.32,313.51 L538.79,313.50 L540.26,313.48 L541.73,313.46 L543.20,313.45 L544.67,313.44 L546.14,313.42 L547.61,313.41 L549.07,313.40 L550.54,313.39 L552.01,313.38 L553.48,313.37 L554.95,313.37 L556.42,313.36 L557.89,313.35 L559.35,313.34 L560.82,313.34 L562.29,313.33 L563.76,313.32 L565.23,313.32 L566.69,313.31 L568.16,313.31 L569.63,313.30 L571.10,313.29 L572.56,313.29 L574.03,313.28 L575.50,313.27 L576.96,313.26 L578.43,313.25 L579.90,313.25 L581.36,313.24 L582.83,313.23 L584.29,313.21 L585.76,313.20 L587.23,313.19 L588.69,313.18 L590.15,313.16 L591.62,313.15 L593.08,313.13 L594.55,313.11 L596.01,313.09 L597.47,313.07 L598.94,313.05 L600.40,313.03 L601.86,313.00 L603.32,312.97 L604.78,312.95 L606.24,312.92 L607.70,312.89 L609.16,312.85 L610.62,312.82 L612.08,312.78 L613.54,312.74 L615.00,312.70" stroke="#8f8f8f" stroke-width="5" stroke-dasharray="18.17 7.83"/>
</g>
<g stroke="#222" stroke-width="1.2" fill="none">
<rect x="67.3" y="4.6" width="547.7" height="381.5"/>
<path d="M67.30,386.1 v3.3"/>
<path d="M176.84,386.1 v3.3"/>
<path d="M286.38,386.1 v3.3"/>
<path d="M395.92,386.1 v3.3"/>
<path d="M505.46,386.1 v3.3"/>
<path d="M615.00,386.1 v3.3"/>
<path d="M67.3,386.10 h-3.7"/>
<path d="M67.3,197.05 h-3.7"/>
<path d="M67.3,8.00 h-3.7"/>
<path d="M615.0,312.10 h3.5"/>
<path d="M615.0,176.60 h3.5"/>
<path d="M615.0,41.10 h3.5"/>
</g>
<g stroke="#1a1a1a" stroke-width="0.8" fill="none">
<path d="M615.0,382.95 h2.2"/>
<path d="M615.0,366.02 h2.2"/>
<path d="M615.0,352.89 h2.2"/>
<path d="M615.0,342.16 h2.2"/>
<path d="M615.0,333.09 h2.2"/>
<path d="M615.0,325.23 h2.2"/>
<path d="M615.0,318.30 h2.2"/>
<path d="M615.0,271.31 h2.2"/>
<path d="M615.0,247.45 h2.2"/>
<path d="M615.0,230.52 h2.2"/>
<path d="M615.0,217.39 h2.2"/>
<path d="M615.0,206.66 h2.2"/>
<path d="M615.0,197.59 h2.2"/>
<path d="M615.0,189.73 h2.2"/>
<path d="M615.0,182.80 h2.2"/>
<path d="M615.0,135.81 h2.2"/>
<path d="M615.0,111.95 h2.2"/>
<path d="M615.0,95.02 h2.2"/>
<path d="M615.0,81.89 h2.2"/>
<path d="M615.0,71.16 h2.2"/>
<path d="M615.0,62.09 h2.2"/>
<path d="M615.0,54.23 h2.2"/>
<path d="M615.0,47.30 h2.2"/>
</g>
<g font-family="'Liberation Sans', sans-serif" fill="#000" opacity="0.999">
<text transform="translate(60.43,409.50) scale(1.0,1)" font-size="22.90" letter-spacing="1.15">0</text>
<text transform="translate(169.97,409.50) scale(1.0,1)" font-size="22.90" letter-spacing="1.15">2</text>
<text transform="translate(279.51,409.50) scale(1.0,1)" font-size="22.90" letter-spacing="1.15">4</text>
<text transform="translate(389.05,409.50) scale(1.0,1)" font-size="22.90" letter-spacing="1.15">6</text>
<text transform="translate(498.59,409.50) scale(1.0,1)" font-size="22.90" letter-spacing="1.15">8</text>
<text transform="translate(601.19,409.50) scale(1.0,1)" font-size="22.90" letter-spacing="1.15">10</text>
<text transform="translate(25.92,394.40) scale(1.0,1)" font-size="22.90" letter-spacing="1.15">0.0</text>
<text transform="translate(25.92,205.35) scale(1.0,1)" font-size="22.90" letter-spacing="1.15">0.5</text>
<text transform="translate(25.92,16.30) scale(1.0,1)" font-size="22.90" letter-spacing="1.15">1.0</text>
<text transform="translate(622.20,320.50) scale(1.0,1)" font-size="22.90" letter-spacing="1.15">10</text>
<text transform="translate(649.40,312.20) scale(1.0,1)" font-size="16.03">0</text>
<text transform="translate(622.20,185.00) scale(1.0,1)" font-size="22.90" letter-spacing="1.15">10</text>
<text transform="translate(649.40,176.70) scale(1.0,1)" font-size="16.03">1</text>
<text transform="translate(622.20,49.50) scale(1.0,1)" font-size="22.90" letter-spacing="1.15">10</text>
<text transform="translate(649.40,41.20) scale(1.0,1)" font-size="16.03">2</text>
<text transform="translate(326.20,432.90) scale(1.2,1)" font-size="22.25" font-style="italic" letter-spacing="1.6">t/τ</text>
<text transform="translate(16.20,201.60) rotate(-90) scale(0.85,1)" font-size="22.25" font-style="italic">P</text>
<text transform="translate(679.40,227.60) rotate(-90) scale(1.094,1)" font-size="22.25">log(Δ)</text>
<text transform="translate(369.30,135.60) scale(1.3,1)" font-size="22.25" font-style="italic">τ</text>
<text transform="translate(388.90,136.00) scale(1.24,1)" font-size="22.25" stroke="#000" stroke-width="0.45">=</text>
<text transform="translate(406.30,135.60) scale(1.0,1)" font-size="22.90" letter-spacing="1.15">4</text>
<text transform="translate(369.30,218.80) scale(1.3,1)" font-size="22.25" font-style="italic">τ</text>
<text transform="translate(388.90,219.20) scale(1.24,1)" font-size="22.25" stroke="#000" stroke-width="0.45">=</text>
<text transform="translate(406.30,218.80) scale(1.0,1)" font-size="22.90" letter-spacing="1.15">2</text>
<text transform="translate(369.30,298.30) scale(1.3,1)" font-size="22.25" font-style="italic">τ</text>
<text transform="translate(388.90,298.70) scale(1.24,1)" font-size="22.25" stroke="#000" stroke-width="0.45">=</text>
<text transform="translate(406.30,298.30) scale(1.0,1)" font-size="22.90" letter-spacing="1.15">0.5</text>
</g>
</svg>
</body></html>
